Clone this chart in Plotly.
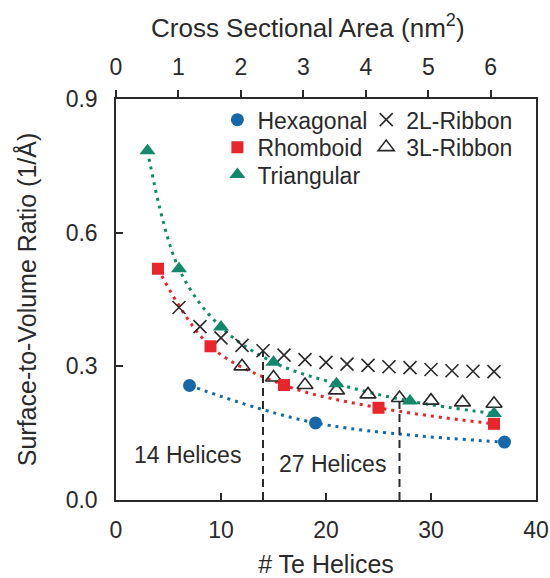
import plotly.graph_objects as go

# ---- data ----
hex_x = [7, 19, 37]
hex_y = [0.257, 0.173, 0.130]

rhomb_x = [4, 9, 16, 25, 36]
rhomb_y = [0.519, 0.345, 0.258, 0.207, 0.171]

tri_x = [3, 6, 10, 15, 21, 28, 36]
tri_y = [0.784, 0.519, 0.388, 0.309, 0.261, 0.222, 0.194]

rib2_x = [6, 8, 10, 12, 14, 16, 18, 20, 22, 24, 26, 28, 30, 32, 34, 36]
rib2_y = [0.432, 0.389, 0.364, 0.347, 0.335, 0.325, 0.315, 0.309,
          0.305, 0.302, 0.299, 0.297, 0.293, 0.290, 0.289, 0.288]

rib3_x = [12, 15, 18, 21, 24, 27, 30, 33, 36]
rib3_y = [0.300, 0.275, 0.258, 0.246, 0.237, 0.229, 0.223, 0.219, 0.216]

divider_x = [14, 27]
divider_top = [0.335, 0.229]

label_text = ["14 Helices", "27 Helices"]
label_x = [6.85, 20.6]
label_y = [0.102, 0.080]

x_ticks = [0, 10, 20, 30, 40]
y_ticks = [0.0, 0.3, 0.6, 0.9]
top_ticks = [0, 1, 2, 3, 4, 5, 6]
top_max = 6.725  # nm^2 at 40 helices

BLUE = "#1668a8"
RED = "#e8252b"
GREEN = "#12896a"
DARK = "#2a2a2a"
FONT = "Liberation Sans, Arial, sans-serif"

W, H = 550, 578
ml, mr, mt, mb = 115.5, 14, 99.3, 77.5
ph = H - mt - mb
pw = W - ml - mr


def px_x(p):
    return (p - ml) / pw


def px_y(p):
    return (H - mb - p) / ph


fig = go.Figure()

# dotted trend curves
for xs, ys, c in [(hex_x, hex_y, BLUE), (rhomb_x, rhomb_y, RED), (tri_x, tri_y, GREEN)]:
    fig.add_trace(go.Scatter(x=xs, y=ys, mode="lines", showlegend=False,
                             line=dict(color=c, width=3, dash="3px,5px", shape="spline"),
                             hoverinfo="skip"))

# dashed dividers
for dx, dt in zip(divider_x, divider_top):
    fig.add_trace(go.Scatter(x=[dx, dx], y=[0, dt], mode="lines", showlegend=False,
                             line=dict(color=DARK, width=2, dash="8px,5px"), hoverinfo="skip"))

# markers (each legend entry gets its own legend box for precise placement)
fig.add_trace(go.Scatter(x=rib3_x, y=rib3_y, mode="markers", name="3L-Ribbon", legend="legend5",
                         marker=dict(symbol="triangle-up-open", size=14, color=DARK,
                                     line=dict(width=1.6, color=DARK))))
fig.add_trace(go.Scatter(x=rib2_x, y=rib2_y, mode="markers", name="2L-Ribbon", legend="legend4",
                         marker=dict(symbol="x-thin-open", size=13, color=DARK,
                                     line=dict(width=1.6, color=DARK))))
fig.add_trace(go.Scatter(x=hex_x, y=hex_y, mode="markers", name="Hexagonal", legend="legend",
                         marker=dict(symbol="circle", size=13, color=BLUE)))
fig.add_trace(go.Scatter(x=rhomb_x, y=rhomb_y, mode="markers", name="Rhomboid", legend="legend2",
                         marker=dict(symbol="square", size=12, color=RED)))
fig.add_trace(go.Scatter(x=tri_x, y=tri_y, mode="markers", name="Triangular", legend="legend3",
                         marker=dict(symbol="triangle-up", size=14, color=GREEN)))

# empty trace to register the top axis
fig.add_trace(go.Scatter(x=[], y=[], xaxis="x2", showlegend=False))

for t, lx, ly in zip(label_text, label_x, label_y):
    fig.add_annotation(x=lx, y=ly, text=t, showarrow=False, xref="x", yref="y",
                       font=dict(size=23, color=DARK, family=FONT))

fig.add_annotation(x=px_x(308), y=px_y(26.5), xref="paper", yref="paper",
                   text="Cross Sectional Area (nm<sup>2</sup>)", showarrow=False,
                   xanchor="center", yanchor="middle",
                   font=dict(size=26, color=DARK, family=FONT))


def leg(xp, yp):
    return dict(x=px_x(xp), y=px_y(yp), xanchor="left", yanchor="middle",
                bgcolor="rgba(0,0,0,0)", font=dict(size=23, color=DARK), tracegroupgap=0,
                borderwidth=0)


col1, col2 = 217, 366
row = [120, 147.5, 175]

fig.update_layout(
    width=W, height=H,
    margin=dict(l=ml, r=mr, t=mt, b=mb, autoexpand=False),
    paper_bgcolor="white", plot_bgcolor="white",
    font=dict(family=FONT, color=DARK, size=23),
    xaxis=dict(range=[0, 40], tickvals=x_ticks, ticks="inside", ticklen=7, tickwidth=1.5,
               tickcolor=DARK, showline=True, linecolor=DARK, linewidth=1.5,
               showgrid=False, zeroline=False, tickfont=dict(size=23),
               ticklabelstandoff=9, automargin=False,
               title=dict(text="# Te Helices", font=dict(size=25), standoff=14)),
    xaxis2=dict(range=[0, top_max], tickvals=top_ticks, overlaying="x", side="top",
                ticks="outside", ticklen=7, tickwidth=1.5, tickcolor=DARK,
                showline=True, linecolor=DARK, linewidth=1.5, showgrid=False,
                zeroline=False, tickfont=dict(size=23), ticklabelstandoff=6,
                automargin=False),
    yaxis=dict(range=[0, 0.9], tickvals=y_ticks, tickformat=".1f", ticks="inside",
               ticklen=7, tickwidth=1.5, tickcolor=DARK, showline=True, linecolor=DARK,
               linewidth=1.5, mirror=True, showgrid=False, zeroline=False,
               tickfont=dict(size=23), ticklabelstandoff=12, automargin=False,
               title=dict(text="Surface-to-Volume Ratio (1/Å)", font=dict(size=25), standoff=22)),
    legend=leg(col1, row[0]),
    legend2=leg(col1, row[1]),
    legend3=leg(col1, row[2]),
    legend4=leg(col2, row[0]),
    legend5=leg(col2, row[1]),
)

fig.write_html("out.html")
